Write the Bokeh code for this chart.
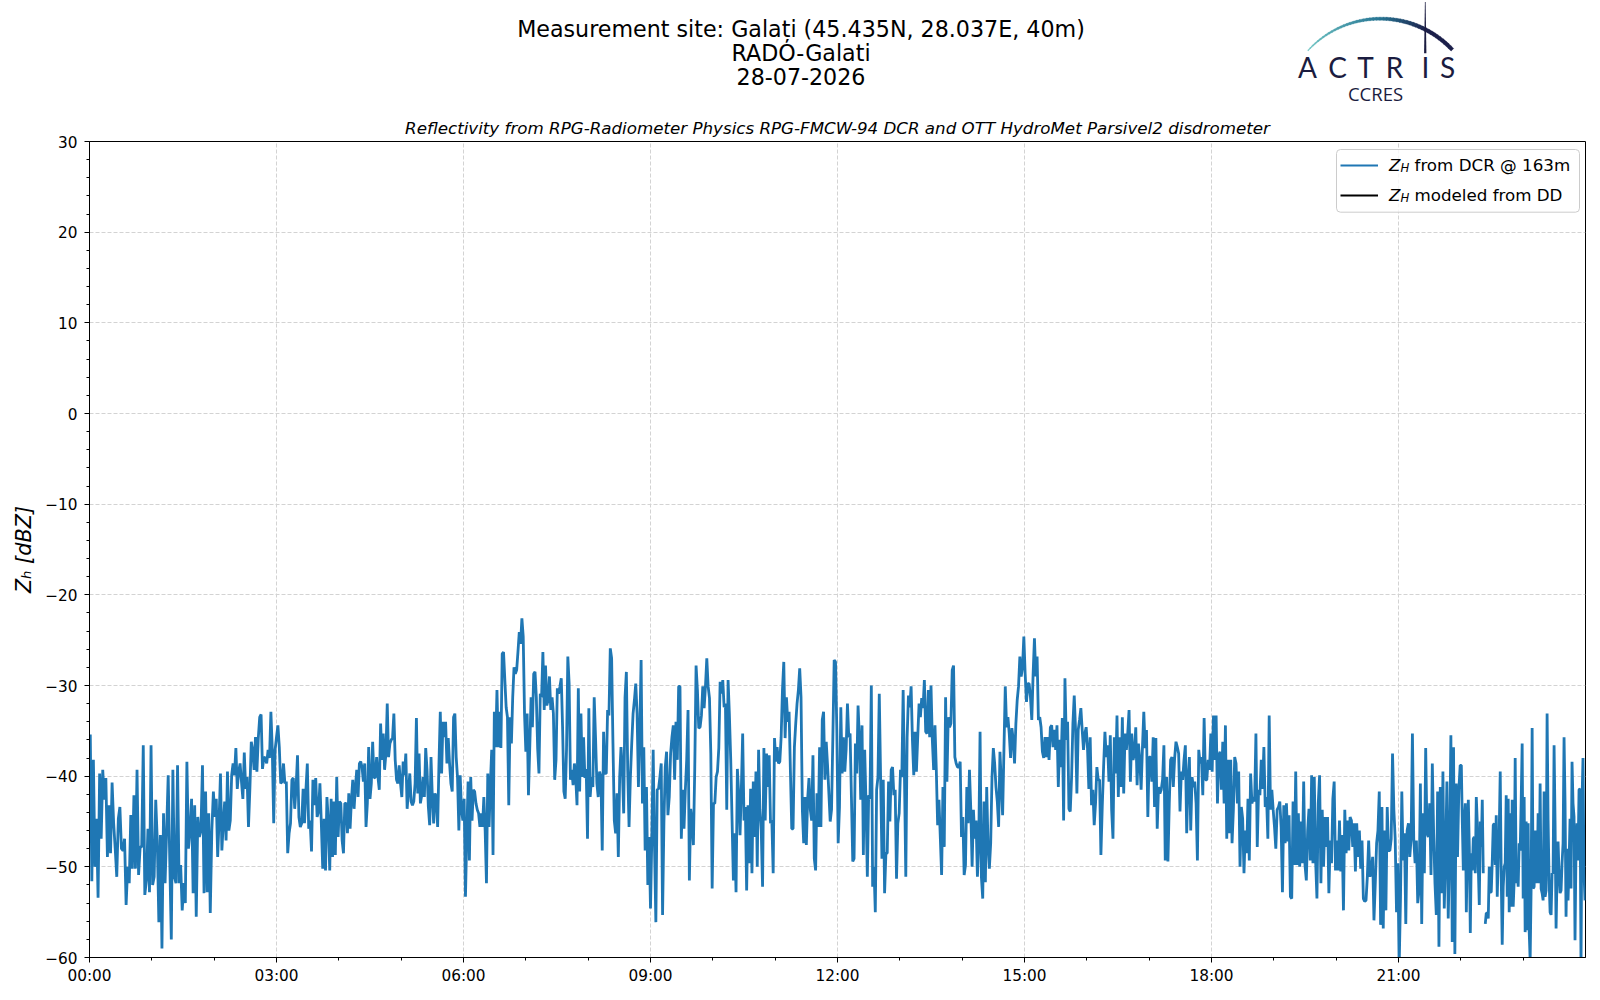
import numpy as np
from bokeh.plotting import figure
from bokeh.layouts import column
from bokeh.models import Range1d, FixedTicker, Label, BoxAnnotation
from bokeh.embed import file_html
from bokeh.resources import INLINE

nan = float("nan")

# ---------------- data: Z_H from DCR @ 163m, dBZ, read in 2-hour blocks ----------------
zh_00_02 = [-35.4, -51.6, -38.2, -50.0, -44.7, -53.4, -39.7, -46.9, -39.3, -42.6, -40.2, -48.9, -43.2, -48.5, -40.7,
            -45.2, -48.0, -51.1, -44.7, -43.4, -48.0, -48.2, -46.9, -54.2, -50.0, -51.8, -44.3, -50.2, -42.1, -50.2,
            -39.3, -50.9, -47.8, -47.8, -36.6, -53.1, -51.5, -45.8, -52.8, -36.6, -52.0, -51.1, -42.6, -47.1, -56.1,
            -46.5, -59.0, -44.1, -51.8, -46.0, -39.9, -49.3, -58.0, -39.3, -51.1, -51.8, -38.8, -51.8, -49.8, -54.8,
            -51.8, -54.0, -38.4, -48.0, -46.0, -42.5, -52.9, -43.2, -55.5, -44.5, -46.7, -46.0, -38.8, -52.9, -41.7,
            -52.8, -44.1, -55.1, -46.0, -41.7]
zh_02_04 = [-44.5, -42.5, -48.9, -44.9, -39.7, -48.2, -45.2, -42.8, -47.1, -39.5, -46.0, -44.9, -39.9, -38.6, -39.9,
            -36.9, -41.4, -39.5, -38.6, -40.6, -42.5, -37.4, -41.4, -40.1, -45.6, -41.4, -36.2, -37.1, -39.3, -35.7,
            -39.5, -35.8, -33.5, -33.2, -39.2, -37.9, -38.0, -38.6, -37.1, -38.0, -32.9, -37.1, -45.2, -37.1, -35.7,
            -34.4, -36.8, -40.8, -40.6, -38.6, -40.8, -40.6, -48.5, -46.3, -45.2, -40.4, -40.2, -43.6, -41.2, -37.7,
            -44.5, -45.6, -45.2, -41.4, -45.2, -41.5, -38.6, -45.8, -44.9, -48.3, -40.4, -43.2, -40.2, -44.5, -43.9,
            -40.8, -45.2, -50.2, -44.7, -50.4, -42.3, -44.9, -50.4, -42.5, -48.9, -42.8, -48.7, -40.1, -46.7]
zh_04_06 = [-42.8, -43.0, -47.1, -48.5, -43.0, -43.0, -46.3, -41.9, -45.8, -42.6, -40.4, -43.6, -41.2, -39.3, -42.3,
            -38.6, -38.4, -39.0, -40.6, -38.6, -45.6, -43.0, -36.8, -42.5, -40.8, -36.2, -40.2, -40.1, -37.9, -40.1,
            -41.5, -34.2, -38.2, -35.3, -39.3, -37.5, -32.0, -37.9, -36.4, -36.0, -35.8, -33.1, -38.2, -40.4, -40.8,
            -38.8, -40.8, -42.3, -38.4, -39.9, -37.5, -43.6, -41.7, -39.7, -42.8, -43.2, -42.8, -40.8, -33.6, -41.9,
            -37.5, -43.0, -42.1, -40.1, -42.3, -36.9, -39.3, -43.4, -45.4, -37.9, -42.3, -45.2, -41.9, -42.3, -45.6,
            -38.6, -32.9, -39.7, -34.0, -35.7, -34.0, -38.6, -35.8, -38.6, -40.8, -41.7, -33.5, -33.1, -37.9, -40.2,
            -46.0, -39.9, -43.7, -44.9]
zh_06_08 = [-42.5, -53.3, -46.5, -40.6, -49.3, -40.1, -44.9, -41.5, -41.7, -43.0, -43.7, -44.1, -45.6, -44.1, -45.6,
            -42.3, -46.0, -51.8, -39.7, -45.6, -40.8, -37.1, -48.7, -32.9, -36.8, -30.5, -36.8, -32.9, -36.9, -26.5,
            -26.3, -29.4, -32.4, -33.5, -43.2, -33.5, -36.4, -31.3, -28.0, -28.7, -28.3, -26.3, -24.1, -25.4, -22.6,
            -24.6, -33.1, -37.3, -33.1, -42.1, -36.8, -31.3, -34.6, -28.7, -28.5, -31.3, -36.9, -39.7, -30.9, -31.3,
            -26.3, -32.7, -27.8, -32.2, -31.6, -29.0, -32.7, -31.3, -33.1, -40.4, -38.2, -30.3, -30.9, -30.1, -29.2,
            -34.6, -41.7, -42.5, -37.1, -26.8, -29.8, -40.4, -39.3, -41.0, -38.6, -40.1, -43.2, -30.3, -41.7, -33.1,
            -40.1, -35.7, -40.2, -39.2, -46.9]
zh_08_10 = [-32.5, -42.3, -40.1, -41.2, -31.3, -35.7, -40.8, -42.3, -39.5, -40.1, -48.2, -35.1, -39.7, -39.7, -32.7,
            -33.3, -25.9, -27.0, -36.4, -44.9, -46.3, -41.9, -48.9, -40.1, -36.8, -39.3, -44.1, -31.3, -28.5, -39.3,
            -45.6, -40.1, -36.4, -33.1, -31.6, -29.8, -33.1, -41.2, -34.9, -27.2, -43.0, -36.8, -48.2, -41.2, -52.0,
            -46.7, -54.6, -46.7, -37.1, -47.8, -56.1, -41.5, -41.4, -40.1, -38.6, -55.3, -45.2, -39.0, -37.3, -44.3,
            -42.3, -37.5, -35.7, -34.4, -40.4, -34.0, -38.2, -30.1, -30.1, -46.9, -41.5, -45.8, -41.5, -38.2, -32.7,
            -51.5, -43.6, -45.0, -47.6, -39.3, -27.8, -30.5, -34.7, -34.6, -33.3, -30.1, -32.5, -30.1, -27.0, -30.1,
            -31.4, -37.5, -52.4]
zh_10_12 = [-43.0, -43.0, -40.1, -39.5, -36.9, -29.6, -30.9, -29.4, -32.4, -32.0, -43.7, -29.4, -33.3, -38.2, -44.9,
            -51.5, -46.3, -52.8, -39.2, -41.9, -46.5, -41.4, -35.3, -44.9, -43.4, -52.6, -43.2, -49.6, -41.4, -50.7,
            -40.6, -46.7, -39.5, -50.0, -37.1, -43.7, -46.0, -52.2, -36.9, -44.9, -37.5, -41.2, -37.7, -45.2, -44.9,
            -50.7, -35.8, -38.4, -36.8, -38.6, -38.4, -35.7, -30.5, -27.4, -35.8, -31.3, -34.0, -32.9, -39.5, -45.8,
            -45.8, -36.8, -34.2, -32.0, -30.5, -28.1, -31.3, -43.7, -47.4, -42.3, -47.6, -42.5, -40.2, -43.7, -44.9,
            -37.7, -49.1, -50.4, -41.9, -45.6, -36.8, -45.6, -33.8, -32.9, -40.4, -36.2, -38.8, -41.9, -45.0, -43.7,
            -35.7, -27.2, -27.4, -34.9]
zh_12_14 = [-47.4, -43.4, -32.4, -39.7, -35.7, -39.5, -37.1, -32.0, -35.7, -35.3, -42.3, -49.4, -49.1, -36.4, -39.7,
            -32.2, -35.8, -42.6, -34.4, -48.7, -37.1, -43.0, -51.1, -42.1, -42.5, -30.0, -52.2, -50.0, -55.0, -41.5,
            -40.1, -30.9, -40.1, -49.1, -40.4, -52.9, -48.5, -48.5, -40.6, -45.0, -39.3, -39.0, -42.1, -41.5, -51.3,
            -45.2, -44.1, -39.3, -40.1, -30.5, -40.1, -51.1, -35.7, -31.1, -32.4, -30.1, -36.0, -39.9, -35.1, -39.5,
            -35.7, -32.0, -33.5, -31.4, -32.5, -29.4, -35.1, -35.3, -30.5, -35.7, -30.0, -36.0, -39.3, -34.4, -39.3,
            -45.4, -42.6, -46.7, -50.9, -41.2, -47.8, -31.3, -40.6, -33.5, -34.6, -34.2, -28.3, -27.8, -37.9, -38.6,
            -39.0, -39.0, -38.4, -46.7]
zh_14_16 = [-44.5, -50.9, -49.8, -41.2, -45.2, -39.3, -43.6, -50.0, -43.7, -46.9, -44.9, -51.1, -47.4, -35.1, -51.1,
            -53.5, -42.8, -51.7, -41.2, -47.6, -50.2, -47.4, -40.1, -36.9, -38.6, -41.2, -42.8, -45.6, -37.3, -40.8,
            -44.3, -37.1, -30.1, -34.6, -33.5, -35.3, -38.0, -34.7, -36.0, -38.6, -34.2, -31.6, -30.1, -26.8, -29.0,
            -28.0, -24.6, -28.7, -31.8, -29.8, -29.8, -31.3, -33.8, -28.7, -24.8, -29.0, -26.8, -33.8, -33.5, -34.6,
            -37.3, -38.0, -35.7, -37.9, -35.7, -38.2, -34.6, -34.4, -36.8, -34.9, -37.1, -34.4, -41.2, -36.0, -39.0,
            -33.6, -44.9, -29.2, -36.0, -34.0, -43.6, -43.9, -40.1, -34.2, -31.1, -34.9, -41.9, -34.9, -33.8, -32.5,
            -34.9, -37.1, -35.3, -34.6]
zh_16_18 = [-36.9, -41.4, -35.7, -43.2, -41.5, -45.4, -43.0, -39.0, -40.4, -40.4, -48.7, -43.4, -39.0, -35.1, -37.9,
            -36.6, -40.6, -35.5, -43.7, -46.9, -35.7, -39.7, -33.3, -42.3, -35.7, -41.2, -33.5, -41.9, -35.3, -37.1,
            -35.3, -32.7, -40.6, -35.3, -38.2, -37.5, -34.6, -41.0, -36.4, -38.2, -41.5, -36.8, -32.9, -36.9, -34.9,
            -44.5, -37.9, -37.9, -40.6, -35.7, -43.4, -35.8, -45.8, -41.2, -41.9, -41.5, -40.4, -36.6, -49.3, -40.1,
            -49.4, -43.0, -38.2, -37.9, -41.2, -38.0, -36.2, -36.8, -37.5, -43.9, -39.5, -40.4, -38.2, -36.6, -46.3,
            -40.2, -37.9, -46.0, -40.1, -41.2, -40.6, -43.0, -49.3, -37.1, -38.6, -37.9, -42.1, -33.6, -40.4, -40.4,
            -38.2, -39.3, -35.3]
zh_18_20 = [-39.5, -33.3, -38.2, -33.3, -43.0, -37.7, -37.3, -41.5, -36.2, -43.0, -34.4, -46.9, -38.2, -46.3, -38.2,
            -47.4, -43.7, -37.9, -38.6, -43.0, -39.5, -50.0, -43.4, -44.7, -50.7, -46.0, -48.5, -42.5, -49.3, -39.7,
            -43.0, -42.3, -42.8, -35.3, -47.8, -41.5, -42.1, -38.2, -41.4, -36.8, -43.4, -42.3, -46.9, -33.3, -43.7,
            -41.5, -43.7, -45.6, -48.0, -43.7, -43.4, -42.8, -45.6, -52.8, -43.2, -47.4, -43.0, -47.2, -44.3, -53.3,
            -53.5, -42.8, -49.8, -39.5, -49.8, -44.1, -50.0, -45.0, -49.6, -40.6, -49.8, -51.5, -46.0, -43.6, -49.3,
            -39.9, -49.6, -40.1, -49.3, -53.5, -43.0, -39.9, -51.8, -43.7, -50.0, -44.5, -47.8, -44.5, -52.9, -47.1,
            -49.6, -42.5, -40.6, -50.4]
zh_20_22 = [-47.1, -50.4, -44.9, -50.5, -46.5, -54.8, -43.7, -48.5, -44.9, -48.2, -44.5, -44.9, -47.8, -45.2, -50.5,
            -45.2, -48.9, -46.0, -50.2, -47.1, -53.5, -53.8, -53.7, -51.1, -47.1, -51.1, -50.4, -48.9, -55.9, -51.8,
            -47.4, -46.0, -41.7, -56.4, -43.4, -56.8, -46.0, -54.8, -43.4, -48.2, -48.2, -46.9, -37.5, -43.7, -46.9,
            -55.0, -49.6, -61.0, -53.5, -41.7, -49.3, -46.3, -56.3, -46.0, -45.2, -48.9, -46.9, -35.3, -46.9, -49.6,
            -47.1, -54.0, -52.6, -40.8, -56.3, -44.1, -50.7, -36.9, -46.3, -46.7, -43.0, -50.9, -38.6, -46.3, -51.8,
            -55.3, -41.7, -58.8, -41.2, -52.9, -39.5, -54.6, -48.9, -40.6, -55.7, -48.2, -35.5, -58.3, -36.8, -59.6,
            -40.8, -48.9, -41.5, -38.8]
zh_22_24 = [-38.8, -45.2, -50.4, -44.9, -43.0, -55.0, -48.5, -42.6, -47.8, -57.3, -48.5, -50.4, -46.9, -46.7, -50.7,
            -42.3, -45.2, -50.0, -54.2, -45.0, -47.8, -42.6, -50.7, nan, -56.3, -55.1, -55.1, -55.7, -50.0, -52.8,
            -52.8, -49.4, -45.4, -45.2, -49.8, -44.3, -53.3, -48.9, -46.0, -39.5, -51.1, -58.6, -52.2, -50.0, -49.6,
            -42.1, -53.3, -42.5, -55.0, -44.1, -54.4, -42.6, -54.4, -51.5, -38.0, -51.8, -50.0, -52.2, -47.4, -48.2,
            -42.8, -36.4, -53.5, -42.3, -57.2, -45.0, -57.0, -45.2, -57.0, -60.3, -52.2, -34.7, -52.4, -52.2, -46.0,
            -51.8, -51.1, -44.1, -51.8, -40.8, -52.4, -52.9, -53.7, -41.7, -53.3, -52.6, -33.1, -44.9, -51.5, -55.0,
            -55.3, -50.7, -50.7, -36.6, -45.2, -56.8, -50.7, -47.2, -50.7, -52.9, -52.6, -49.6, -47.4, -35.7, -43.0,
            -55.5, -48.0, -53.7, -49.6, -44.7, -52.4, -38.4, -43.0, -44.5, -58.1, -47.8, -45.2, -49.3, -41.5, -41.4,
            -61.0, -42.6, -38.0, -50.7, -53.7]

blocks = [zh_00_02, zh_02_04, zh_04_06, zh_06_08, zh_08_10, zh_10_12,
          zh_12_14, zh_14_16, zh_16_18, zh_18_20, zh_20_22, zh_22_24]
block_start_hour = [0, 2, 4, 6, 8, 10, 12, 14, 16, 18, 20, 22]
block_hours = 2

x_tick_hours = [0, 3, 6, 9, 12, 15, 18, 21]
x_tick_labels = ["00:00", "03:00", "06:00", "09:00", "12:00", "15:00", "18:00", "21:00"]
x_minor_hours = [1, 2, 4, 5, 7, 8, 10, 11, 13, 14, 16, 17, 19, 20, 22, 23]
y_ticks = [-60, -50, -40, -30, -20, -10, 0, 10, 20, 30]
y_tick_labels = ["\u221260", "\u221250", "\u221240", "\u221230", "\u221220", "\u221210", "0", "10", "20", "30"]
y_minor = [v for v in range(-58, 30, 2) if v % 10]

t_hours, zh = [], []
for start, vals in zip(block_start_hour, blocks):
    n = len(vals)
    for i, val in enumerate(vals):
        t_hours.append(start + (i + 0.5) * block_hours / n)
        zh.append(val)

# ---------------- page geometry ----------------
W_TOTAL = 1593
HEAD_H = 109
MAIN_H = 884
B_LEFT, B_RIGHT = 89, 8
FRAME_L, FRAME_R = B_LEFT, W_TOTAL - B_RIGHT
NAVY = "#1b1c40"


def lab(f, text, X, Y, size, style="normal", align="left", font="DejaVu Sans", color="black", units="data"):
    f.add_layout(Label(x=X, y=Y, x_units=units, y_units=units, text=text,
                       text_font=font, text_font_size=f"{size}px", text_font_style=style,
                       text_align=align, text_baseline="alphabetic", text_color=color))


# ---------------- header (titles + logo), page pixel coordinates ----------------
head = figure(width=W_TOTAL, height=HEAD_H, output_backend="svg", toolbar_location=None,
              x_range=Range1d(FRAME_L, FRAME_R), y_range=Range1d(HEAD_H, 0),
              x_axis_location=None, y_axis_location=None,
              min_border_left=B_LEFT, min_border_right=B_RIGHT, min_border_top=0, min_border_bottom=0)
head.outline_line_color = None
head.background_fill_color = "white"
head.border_fill_color = "white"
head.xgrid.visible = False
head.ygrid.visible = False

lab(head, "Measurement site: Gala\u021bi (45.435N, 28.037E, 40m)", 800.5, 28.6, 22.2, align="center")
lab(head, "RADO-Galati", 800.5, 52.1, 22.2, align="center")
lab(head, "28-07-2026", 800.5, 75.6, 22.2, align="center")

cx, cy, R = 1380.0, 116.7, 98.5
a_start, a_end = np.deg2rad(137.5), np.deg2rad(43.5)
nseg = 48
c0 = np.array([112, 198, 196])
c1 = np.array([40, 118, 148])
c2 = np.array([27, 31, 74])
arc_xs, arc_ys, arc_cols = [], [], []
for j in range(nseg):
    f0, f1 = j / nseg, (j + 1) / nseg
    fm = 0.5 * (f0 + f1)
    a = np.linspace(a_start + (a_end - a_start) * f0, a_start + (a_end - a_start) * (f1 + 0.004), 6)
    w = 0.9 + 2.9 * min(1.0, fm * 1.4) ** 0.8
    ro, ri = R + w / 2, R - w / 2
    arc_xs.append(list(cx + ro * np.cos(a)) + list(cx + ri * np.cos(a[::-1])))
    arc_ys.append(list(cy - ro * np.sin(a)) + list(cy - ri * np.sin(a[::-1])))
    if fm < 0.5:
        c = c0 + (c1 - c0) * (fm / 0.5)
    else:
        c = c1 + (c2 - c1) * min(1.0, (fm - 0.5) / 0.3)
    arc_cols.append("#%02x%02x%02x" % tuple(int(round(v)) for v in c))
head.patches(arc_xs, arc_ys, fill_color=arc_cols, line_color=arc_cols, line_width=0.3)
head.patch([1423.6, 1425.9, 1425.1, 1424.4], [52.7, 52.7, 1.5, 1.5], fill_color=NAVY, line_color=None)
for ch, X in zip("ACTRIS", [1307, 1337, 1365, 1394, 1425, 1447]):
    lab(head, ch, X, 66, 28, align="center", font="Lato", color=NAVY)
lab(head, "CCRES", 1375, 92.5, 18.5, align="center", font="Open Sans", color=NAVY)

# ---------------- main plot ----------------
p = figure(width=W_TOTAL, height=MAIN_H, output_backend="svg", toolbar_location=None,
           x_range=Range1d(0, 24), y_range=Range1d(-60, 30),
           min_border_left=B_LEFT, min_border_right=B_RIGHT, min_border_top=32, min_border_bottom=36)
p.background_fill_color = "white"
p.border_fill_color = "white"
p.outline_line_color = "black"
p.outline_line_width = 1
p.outline_line_alpha = 1

p.title.text = "Reflectivity from RPG-Radiometer Physics RPG-FMCW-94 DCR and OTT HydroMet Parsivel2 disdrometer"
p.title.align = "center"
p.title.text_font = "DejaVu Sans"
p.title.text_font_size = "16.7px"
p.title.text_font_style = "italic"
p.title.text_color = "black"
p.title.standoff = 8

p.line(t_hours, zh, line_color="#1f77b4", line_width=2.8)

for ax in (p.xaxis, p.yaxis):
    ax.axis_line_color = "black"
    ax.major_tick_line_color = "black"
    ax.minor_tick_line_color = "black"
    ax.major_tick_out = 5
    ax.major_tick_in = 0
    ax.minor_tick_out = 3
    ax.minor_tick_in = 0
    ax.major_label_text_font = "DejaVu Sans"
    ax.major_label_text_font_size = "15.3px"
    ax.major_label_text_color = "black"

p.xaxis.ticker = FixedTicker(ticks=x_tick_hours, minor_ticks=x_minor_hours)
p.xaxis.major_label_overrides = dict(zip(x_tick_hours, x_tick_labels))
p.xaxis.major_label_standoff = 4
p.yaxis.ticker = FixedTicker(ticks=y_ticks, minor_ticks=y_minor)
p.yaxis.major_label_overrides = dict(zip(y_ticks, y_tick_labels))
p.yaxis.major_label_standoff = 7
p.yaxis.axis_label = "Z\u2095 [dBZ]"
p.yaxis.axis_label_text_font = "DejaVu Sans"
p.yaxis.axis_label_text_font_size = "20.8px"
p.yaxis.axis_label_text_font_style = "italic"
p.yaxis.axis_label_text_color = "black"
p.yaxis.axis_label_standoff = 6

for g in (p.xgrid, p.ygrid):
    g.grid_line_color = "#d3d3d3"
    g.grid_line_dash = "4 2"
    g.grid_line_width = 1

# legend (screen units, relative to the plot frame's lower-left corner)
FX, FY = 89, 957
p.add_layout(BoxAnnotation(left=1336 - FX, right=1579 - FX, top=FY - 149, bottom=FY - 211.7,
                           left_units="screen", right_units="screen", top_units="screen", bottom_units="screen",
                           fill_color="white", fill_alpha=0.8, line_color="#cccccc", line_alpha=1,
                           line_width=1, border_radius=4))
for col, Yc in (("#1f77b4", 165), ("black", 195)):
    p.add_layout(BoxAnnotation(left=1340 - FX, right=1377.5 - FX, top=FY - (Yc - 1.05), bottom=FY - (Yc + 1.05),
                               left_units="screen", right_units="screen", top_units="screen", bottom_units="screen",
                               fill_color=col, fill_alpha=1, line_color=None))
for rest, Yb in (("\u00a0from DCR @ 163m", 164.5), ("\u00a0modeled from DD", 194.2)):
    lab(p, "Z", 1388.5 - FX, FY - Yb, 16.7, style="italic", units="screen")
    lab(p, "H", 1399.9 - FX, FY - Yb - 3.0, 11.7, style="italic", units="screen")
    lab(p, rest, 1408.7 - FX, FY - Yb, 16.7, units="screen")

layout = column(head, p, spacing=0)
open("out.html", "w").write(file_html(layout, INLINE))
